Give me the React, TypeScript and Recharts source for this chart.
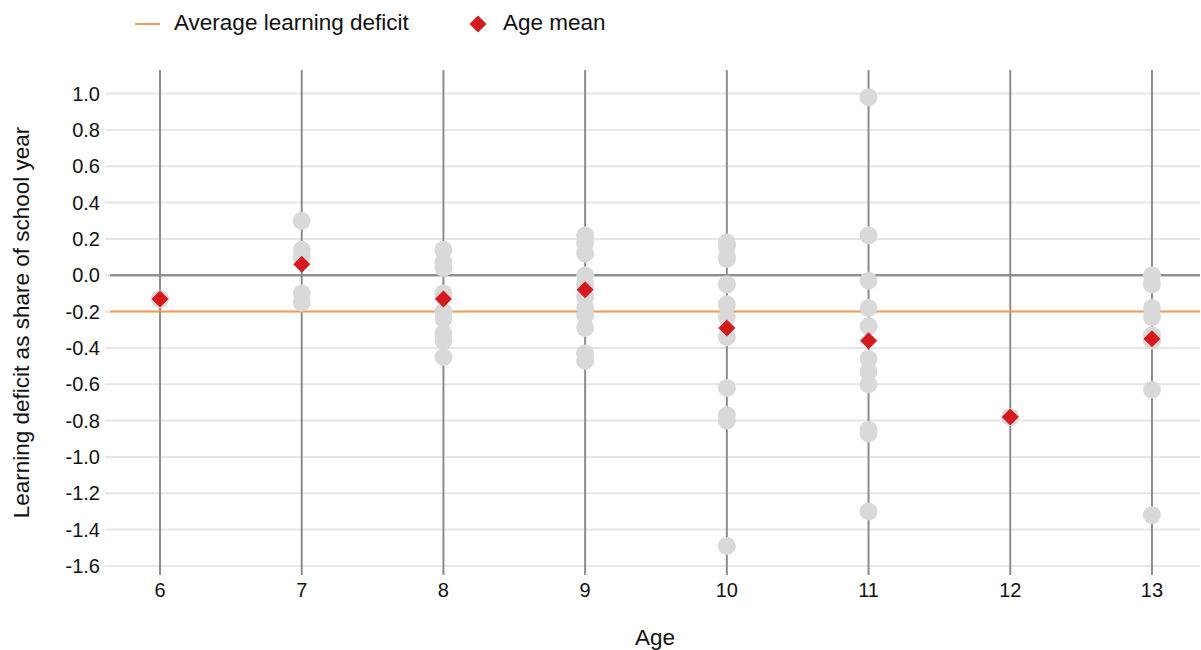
import React from 'react';
import { ScatterChart, Scatter, XAxis, YAxis, ReferenceLine, Legend } from 'recharts';

const ages = [6, 7, 8, 9, 10, 11, 12, 13];

const deficitsAge6 = [-0.13];
const deficitsAge7 = [0.30, 0.14, 0.10, -0.10, -0.15];
const deficitsAge8 = [0.14, 0.07, 0.04, -0.10, -0.20, -0.24, -0.32, -0.36, -0.45];
const deficitsAge9 = [0.22, 0.18, 0.12, 0.00, -0.05, -0.12, -0.18, -0.22, -0.29, -0.43, -0.47];
const deficitsAge10 = [0.18, 0.16, 0.10, 0.09, -0.05, -0.16, -0.23, -0.34, -0.62, -0.77, -0.80, -1.49];
const deficitsAge11 = [0.98, 0.22, -0.03, -0.18, -0.28, -0.46, -0.53, -0.60, -0.85, -0.87, -1.30];
const deficitsAge12 = [-0.78];
const deficitsAge13 = [0.00, -0.05, -0.18, -0.23, -0.33, -0.36, -0.63, -1.32];

const ageMeans = [-0.13, 0.06, -0.13, -0.08, -0.29, -0.36, -0.78, -0.35];
const averageDeficit = -0.2;

const yTicks = [1.0, 0.8, 0.6, 0.4, 0.2, 0.0, -0.2, -0.4, -0.6, -0.8, -1.0, -1.2, -1.4, -1.6];

const deficitsByAge = [
  deficitsAge6, deficitsAge7, deficitsAge8, deficitsAge9,
  deficitsAge10, deficitsAge11, deficitsAge12, deficitsAge13,
];

const pointData = ages.flatMap((age, i) => deficitsByAge[i].map((v) => ({ age, value: v })));
const meanData = ages.map((age, i) => ({ age, value: ageMeans[i] }));

const ORANGE = '#f89a50';
const RED = '#d7191c';
const FONT = '"Liberation Sans", Arial, sans-serif';

const GrayDot = (props: any) => {
  const { cx, cy } = props;
  return <circle cx={cx} cy={cy} r={9} fill="#d9d9d9" />;
};

const Diamond = (props: any) => {
  const { cx, cy } = props;
  const s = 8.5;
  return <polygon points={`${cx},${cy - s} ${cx + s},${cy} ${cx},${cy + s} ${cx - s},${cy}`} fill={RED} />;
};

const LegendBox = () => (
  <div style={{ height: 46, position: 'relative', fontFamily: FONT, fontSize: 22.5, color: '#111' }}>
    <div style={{ position: 'absolute', left: 135, top: 23, width: 25, height: 2, background: ORANGE }} />
    <span style={{ position: 'absolute', left: 174, top: 10, lineHeight: '26px' }}>Average learning deficit</span>
    <svg style={{ position: 'absolute', left: 469, top: 15 }} width={18} height={18}>
      <polygon points="9,0.5 17.5,9 9,17.5 0.5,9" fill={RED} />
    </svg>
    <span style={{ position: 'absolute', left: 503, top: 10, lineHeight: '26px' }}>Age mean</span>
  </div>
);

export default function App() {
  return (
    <div style={{ position: 'absolute', left: 0, top: 0, background: '#fff' }}>
      <ScatterChart width={1201} height={650} margin={{ top: 24, right: 1, bottom: 0, left: 0 }}>
        <Legend verticalAlign="top" align="left" content={<LegendBox />} wrapperStyle={{ left: 0, top: 0, width: 1201 }} />
        <XAxis
          type="number"
          dataKey="age"
          domain={[5.647, 13.339]}
          ticks={ages}
          axisLine={false}
          tickLine={false}
          tickMargin={2}
          height={75}
          tick={{ fontSize: 20, fill: '#111', fontFamily: FONT }}
          label={{ value: 'Age', position: 'insideBottom', offset: 5, style: { fontSize: 22.5, fill: '#111', fontFamily: FONT } }}
        />
        <YAxis
          type="number"
          dataKey="value"
          domain={[-1.65, 1.13]}
          ticks={yTicks}
          width={110}
          axisLine={false}
          tickLine={{ stroke: '#e6e6e6', strokeWidth: 2 }}
          tickSize={5}
          tickMargin={5}
          tickFormatter={(v: number) => v.toFixed(1)}
          tick={{ fontSize: 20, fill: '#111', fontFamily: FONT }}
          label={{
            value: 'Learning deficit as share of school year',
            angle: -90,
            position: 'insideLeft',
            offset: 21,
            style: { fontSize: 22.5, fill: '#111', fontFamily: FONT, textAnchor: 'middle' },
          }}
        />
        {yTicks.map((t) => (
          <ReferenceLine key={`h${t}`} y={t} stroke={t === 0 ? '#8c8c8c' : '#e6e6e6'} strokeWidth={2} />
        ))}
        {ages.map((a) => (
          <ReferenceLine key={`v${a}`} x={a} stroke="#8c8c8c" strokeWidth={2} />
        ))}
        <ReferenceLine y={0} stroke="#8c8c8c" strokeWidth={2} />
        <Scatter name="points" data={pointData} shape={<GrayDot />} isAnimationActive={false} legendType="none" />
        <ReferenceLine y={averageDeficit} stroke={ORANGE} strokeWidth={2} />
        <Scatter name="Age mean" data={meanData} shape={<Diamond />} isAnimationActive={false} />
      </ScatterChart>
    </div>
  );
}
